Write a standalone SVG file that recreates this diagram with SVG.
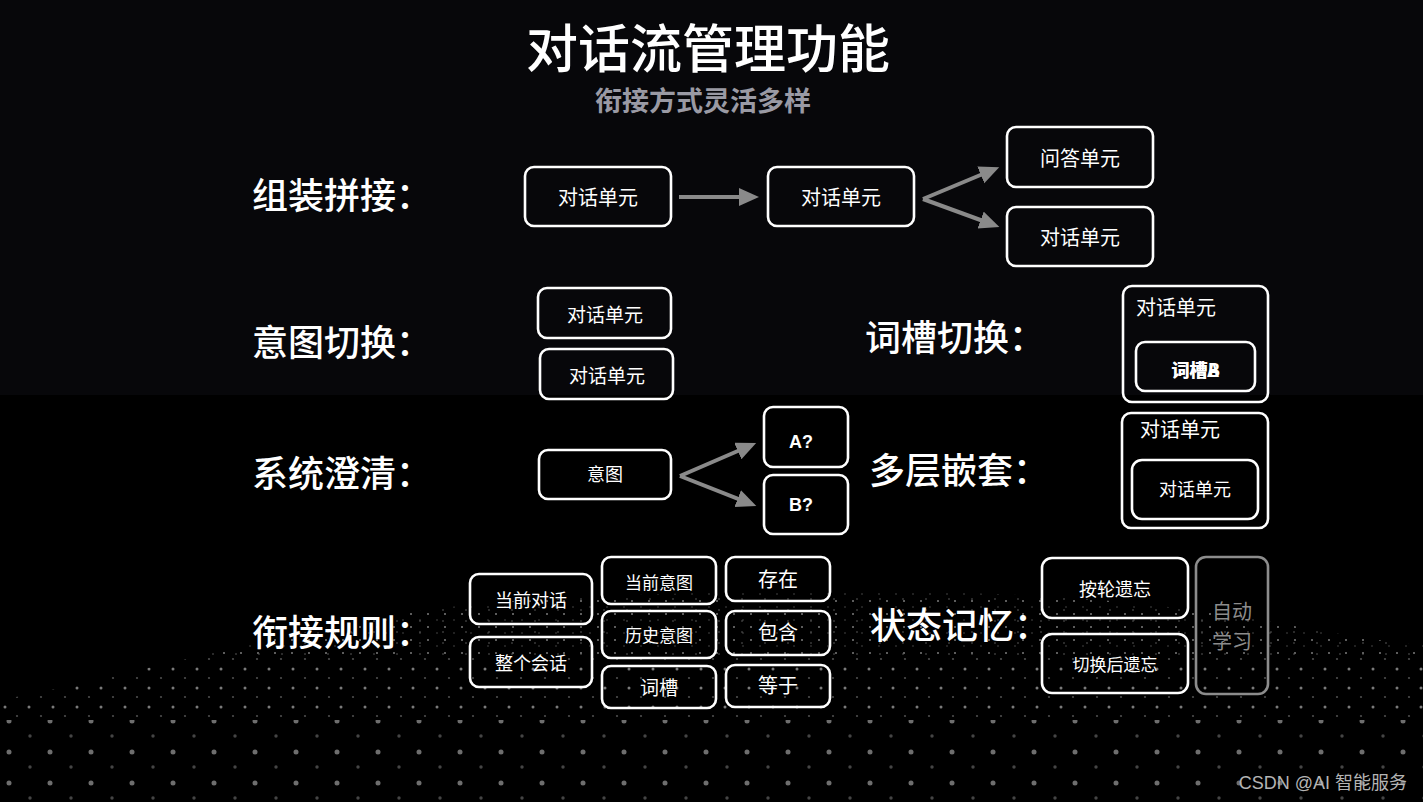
<svg xmlns="http://www.w3.org/2000/svg" width="1423" height="802" viewBox="0 0 1423 802">
<style>
.cjk{font-family:"Noto Sans CJK SC","Noto Sans",sans-serif}
.title{font-size:52px;font-weight:500;fill:#ffffff}
.sub{font-size:27px;font-weight:bold;fill:#9a9aa4}
.lbl{font-size:36px;font-weight:500;fill:#ffffff}
.box{fill:none;stroke:#ffffff;stroke-width:2.6}
.gbox{fill:none;stroke:#8c8c8c;stroke-width:2.6}
.t{fill:#ffffff;text-anchor:middle}
.arr{stroke:#8a8a8a;stroke-width:4;fill:none}
</style>
<defs>
<marker id="ah" markerUnits="userSpaceOnUse" markerWidth="22" markerHeight="20" refX="10" refY="9" orient="auto">
<path d="M0,0 L20,9 L0,18 Z" fill="#8a8a8a"/>
</marker>
<pattern id="p1" width="17" height="13" patternUnits="userSpaceOnUse">
<circle cx="3" cy="3" r="1" fill="#7a7a7a"/>
<circle cx="12" cy="9" r="0.8" fill="#4a4a4a"/>
</pattern>
<pattern id="p1b" width="23" height="11" patternUnits="userSpaceOnUse">
<circle cx="6" cy="5" r="0.8" fill="#606060"/>
</pattern>
<pattern id="p2" width="24" height="19" patternUnits="userSpaceOnUse">
<circle cx="5" cy="4" r="1.5" fill="#7a7a7a"/>
<circle cx="17" cy="13" r="1.1" fill="#4c4c4c"/>
</pattern>
<pattern id="p3" width="41" height="31" patternUnits="userSpaceOnUse">
<circle cx="9" cy="8" r="2.5" fill="#6e6e6e"/>
<circle cx="30" cy="23" r="1.7" fill="#454545"/>
</pattern>
<clipPath id="wave">
<path d="M0,700 C150,672 350,612 500,602 C700,590 900,585 1100,600 C1250,612 1350,640 1423,645 L1423,802 L0,802 Z"/>
</clipPath>
</defs>
<rect x="0" y="0" width="1423" height="802" fill="#000000"/>
<rect x="0" y="0" width="1423" height="395" fill="#07070a"/>
<g id="dots" clip-path="url(#wave)">
<rect x="0" y="560" width="1423" height="95" fill="url(#p1)"/>
<rect x="0" y="560" width="1423" height="95" fill="url(#p1b)"/>
<rect x="0" y="655" width="1423" height="65" fill="url(#p2)"/>
<rect x="0" y="720" width="1423" height="82" fill="url(#p3)"/>
</g>
<g id="title" class="cjk">
<text x="708" y="68" class="title" text-anchor="middle">对话流管理功能</text>
<text x="703" y="111" class="sub" text-anchor="middle">衔接方式灵活多样</text>
</g>
<g id="labels" class="cjk lbl">
<text x="252" y="209">组装拼接：</text>
<text x="252" y="356">意图切换：</text>
<text x="252" y="487">系统澄清：</text>
<text x="252" y="646">衔接规则：</text>
<text x="865" y="351">词槽切换：</text>
<text x="869" y="484">多层嵌套：</text>
<text x="870" y="639">状态记忆：</text>
</g>
<g id="connectors">
<line class="arr" x1="679" y1="197" x2="749" y2="197" marker-end="url(#ah)"/>
<line class="arr" x1="923" y1="199" x2="990" y2="171" marker-end="url(#ah)"/>
<line class="arr" x1="923" y1="199" x2="990" y2="223.5" marker-end="url(#ah)"/>
<line class="arr" x1="680" y1="476" x2="747" y2="447" marker-end="url(#ah)"/>
<line class="arr" x1="680" y1="476" x2="747" y2="502.3" marker-end="url(#ah)"/>
</g>
<g id="n_zz1" class="cjk"><rect class="box" x="525" y="167" width="146" height="59" rx="9"/><text class="t" x="598" y="205" font-size="20">对话单元</text></g>
<g id="n_zz2" class="cjk"><rect class="box" x="768" y="167" width="146" height="59" rx="9"/><text class="t" x="841" y="205" font-size="20">对话单元</text></g>
<g id="n_zz3" class="cjk"><rect class="box" x="1007" y="127" width="146" height="60" rx="9"/><text class="t" x="1080" y="166" font-size="20">问答单元</text></g>
<g id="n_zz4" class="cjk"><rect class="box" x="1007" y="207" width="146" height="59" rx="9"/><text class="t" x="1080" y="245" font-size="20">对话单元</text></g>
<g id="n_yt1" class="cjk"><rect class="box" x="538" y="288" width="133" height="50" rx="9"/><text class="t" x="605" y="322" font-size="19">对话单元</text></g>
<g id="n_yt2" class="cjk"><rect class="box" x="540" y="349" width="133" height="50" rx="9"/><text class="t" x="607" y="383" font-size="19">对话单元</text></g>
<g id="n_cc" class="cjk"><rect class="box" x="1123" y="286" width="145" height="116" rx="9"/><text x="1136" y="315" font-size="20" fill="#fff">对话单元</text>
<rect class="box" x="1136" y="342" width="119" height="49" rx="9"/>
<text class="t" x="1195" y="377" font-size="18" font-weight="bold">词槽A</text>
<text class="t" x="1196" y="377" font-size="18" font-weight="bold">词槽B</text></g>
<g id="n_cq1" class="cjk"><rect class="box" x="539" y="450" width="132" height="49" rx="9"/><text class="t" x="605" y="481" font-size="18">意图</text></g>
<g id="n_cq2"><rect class="box" x="764" y="407" width="84" height="60" rx="9"/><text class="t" x="801" y="448" font-size="18" font-weight="bold" font-family="Liberation Sans, Arial, sans-serif">A?</text></g>
<g id="n_cq3"><rect class="box" x="764" y="475" width="84" height="59" rx="9"/><text class="t" x="801" y="511" font-size="18" font-weight="bold" font-family="Liberation Sans, Arial, sans-serif">B?</text></g>
<g id="n_nest" class="cjk"><rect class="box" x="1122" y="413" width="146" height="115" rx="9"/><text x="1140" y="437" font-size="20" fill="#fff">对话单元</text>
<rect class="box" x="1132" y="460" width="126" height="59" rx="10"/><text class="t" x="1195" y="496" font-size="18">对话单元</text></g>
<g id="n_r1" class="cjk"><rect class="box" x="470" y="574" width="122" height="50" rx="9"/><text class="t" x="531" y="607" font-size="18">当前对话</text></g>
<g id="n_r2" class="cjk"><rect class="box" x="470" y="637" width="122" height="50" rx="9"/><text class="t" x="531" y="670" font-size="18">整个会话</text></g>
<g id="n_r3" class="cjk"><rect class="box" x="602" y="557" width="114" height="47" rx="9"/><text class="t" x="659" y="589" font-size="17">当前意图</text></g>
<g id="n_r4" class="cjk"><rect class="box" x="602" y="611" width="114" height="47" rx="9"/><text class="t" x="659" y="642" font-size="17">历史意图</text></g>
<g id="n_r5" class="cjk"><rect class="box" x="602" y="666" width="114" height="42" rx="9"/><text class="t" x="659" y="695" font-size="19">词槽</text></g>
<g id="n_r6" class="cjk"><rect class="box" x="726" y="557" width="104" height="44" rx="9"/><text class="t" x="778" y="587" font-size="20">存在</text></g>
<g id="n_r7" class="cjk"><rect class="box" x="726" y="611" width="104" height="44" rx="9"/><text class="t" x="778" y="640" font-size="20">包含</text></g>
<g id="n_r8" class="cjk"><rect class="box" x="726" y="665" width="104" height="42" rx="9"/><text class="t" x="778" y="693" font-size="20">等于</text></g>
<g id="n_m1" class="cjk"><rect class="box" x="1042" y="558" width="146" height="60" rx="10"/><text class="t" x="1115" y="596" font-size="18">按轮遗忘</text></g>
<g id="n_m2" class="cjk"><rect class="box" x="1042" y="634" width="146" height="59" rx="10"/><text class="t" x="1115" y="671" font-size="17">切换后遗忘</text></g>
<g id="n_m3" class="cjk"><rect class="gbox" x="1196" y="557" width="72" height="137" rx="10"/><text font-size="20" fill="#8c8c8c" text-anchor="middle"><tspan x="1232" y="619">自动</tspan><tspan x="1232" y="649">学习</tspan></text></g>
<text x="1407" y="789" font-size="18" fill="#b4b4b4" text-anchor="end" font-family="Liberation Sans, Noto Sans CJK SC, sans-serif">CSDN @AI 智能服务</text>
</svg>
